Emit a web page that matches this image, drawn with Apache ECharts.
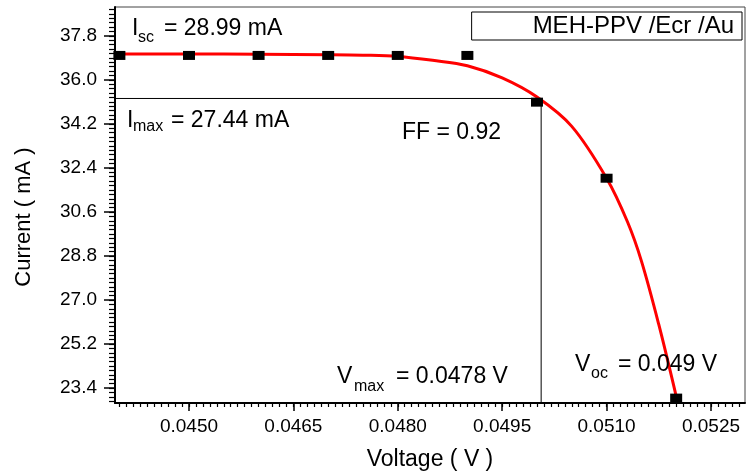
<!DOCTYPE html>
<html>
<head>
<meta charset="utf-8">
<script src="https://cdn.jsdelivr.net/npm/echarts@6/dist/echarts.min.js"></script>
<style>
html,body{margin:0;padding:0;background:#fff;}
#chart{width:747px;height:476px;}
</style>
</head>
<body>
<div id="chart"></div>
<script>
// ---- data ----
const seriesName = 'MEH-PPV /Ecr /Au';
const measV = [0.0440, 0.0450, 0.0460, 0.0470, 0.0480, 0.0490, 0.0500, 0.0510, 0.0520];
const measI = [37.00, 37.00, 37.00, 37.00, 37.00, 37.00, 35.09, 31.98, 22.99];
const fitV = [0.0440, 0.0450, 0.0460, 0.0470, 0.0475, 0.0480, 0.0485, 0.0490, 0.0495, 0.0500, 0.0505, 0.0510, 0.0513, 0.0515, 0.05175, 0.0520];
const fitI = [37.06, 37.06, 37.05, 37.03, 37.01, 36.96, 36.80, 36.58, 36.08, 35.30, 34.10, 31.98, 30.20, 28.60, 26.00, 23.07];
const guideV = [0.043937, 0.05006, 0.05006];
const guideI = [35.24, 35.24, 22.79];
const xTicks = [0.0450, 0.0465, 0.0480, 0.0495, 0.0510, 0.0525];
const yTicks = [23.4, 25.2, 27.0, 28.8, 30.6, 32.4, 34.2, 36.0, 37.8];
const xRange = [0.043937, 0.052989];
const yRange = [22.79, 38.98];

// minor tick positions (between the major ticks)
const xMinorStep = 0.0001, yMinorStep = 0.18;
const xMinor = [];
for (let k = Math.ceil(xRange[0] / xMinorStep); k * xMinorStep <= xRange[1]; k++) xMinor.push(+(k * xMinorStep).toFixed(6));
const yMinor = [];
for (let k = Math.ceil(yRange[0] / yMinorStep); k * yMinorStep <= yRange[1]; k++) yMinor.push(+(k * yMinorStep).toFixed(4));

const FONT = 'Liberation Sans, Arial, sans-serif';
const zip = (a, b) => a.map((v, i) => [v, b[i]]);

function txt(text, x, y, size) {
  return { type: 'text', z: 100, style: { text: text, x: x, y: y, fill: '#000',
    fontSize: size, fontFamily: FONT, align: 'left', verticalAlign: 'middle' } };
}

const chart = echarts.init(document.getElementById('chart'), null, { renderer: 'canvas' });
chart.setOption({
  animation: false,
  backgroundColor: '#fff',
  grid: { left: 115, right: 2, top: 7, bottom: 71, show: true, borderColor: '#444', borderWidth: 1, backgroundColor: 'transparent' },
  legend: {
    data: [seriesName], right: 5, top: 12, icon: 'rect', itemWidth: 0, itemHeight: 0,
    selectedMode: false, borderColor: '#000', borderWidth: 1, padding: [2, 8, 2, 56],
    textStyle: { fontSize: 24, fontFamily: FONT, color: '#000' }
  },
  xAxis: [
    {
      type: 'value', min: xRange[0], max: xRange[1], position: 'bottom',
      axisLine: { show: true, onZero: false, lineStyle: { color: '#000', width: 2 } },
      axisTick: { show: true, inside: false, length: 8, customValues: xTicks, lineStyle: { color: '#000', width: 1.5 } },
      axisLabel: { customValues: xTicks, formatter: v => v.toFixed(4), fontSize: 19, fontFamily: FONT, color: '#000', margin: 14 },
      splitLine: { show: false },
      name: 'Voltage ( V )', nameLocation: 'middle', nameGap: 45,
      nameTextStyle: { fontSize: 23, fontFamily: FONT, color: '#000' }
    },
    {
      type: 'value', min: xRange[0], max: xRange[1], position: 'bottom',
      axisLine: { show: false, onZero: false },
      axisTick: { show: true, inside: false, length: 4, customValues: xMinor, lineStyle: { color: '#000', width: 1.2 } },
      axisLabel: { show: false }, splitLine: { show: false }
    }
  ],
  yAxis: [
    {
      type: 'value', min: yRange[0], max: yRange[1], position: 'left',
      axisLine: { show: true, onZero: false, lineStyle: { color: '#000', width: 2 } },
      axisTick: { show: true, inside: false, length: 11, customValues: yTicks, lineStyle: { color: '#000', width: 1.5 } },
      axisLabel: { customValues: yTicks, formatter: v => v.toFixed(1), fontSize: 19, fontFamily: FONT, color: '#000', margin: 18 },
      splitLine: { show: false },
      name: 'Current ( mA )', nameLocation: 'middle', nameGap: 80,
      nameTextStyle: { fontSize: 22, fontFamily: FONT, color: '#000', padding: [0, 24, 0, 0] }
    },
    {
      type: 'value', min: yRange[0], max: yRange[1], position: 'left',
      axisLine: { show: false, onZero: false },
      axisTick: { show: true, inside: false, length: 6, customValues: yMinor, lineStyle: { color: '#000', width: 1.2 } },
      axisLabel: { show: false }, splitLine: { show: false }
    }
  ],
  series: [
    {
      name: 'guides', type: 'line', xAxisIndex: 0, yAxisIndex: 0, data: zip(guideV, guideI),
      symbol: 'none', lineStyle: { color: '#000', width: 1 }, z: 2, silent: true
    },
    {
      name: 'fit', type: 'line', xAxisIndex: 0, yAxisIndex: 0, data: zip(fitV, fitI),
      smooth: 0.35, symbol: 'none', lineStyle: { color: '#ff0000', width: 3 }, z: 3
    },
    {
      name: seriesName, type: 'scatter', xAxisIndex: 0, yAxisIndex: 0, data: zip(measV, measI),
      symbol: 'rect', symbolSize: [12, 9], itemStyle: { color: '#000', opacity: 1 }, z: 4, clip: false
    }
  ],
  graphic: [
    txt('I', 132, 29, 23), txt('sc', 138, 37.5, 16), txt('= 28.99 mA', 164, 29, 23),
    txt('I', 127, 121, 23), txt('max', 133, 126.5, 16), txt('= 27.44 mA', 171, 121, 23),
    txt('FF = 0.92', 402, 132.5, 23),
    txt('V', 337, 376.5, 23), txt('max', 354, 387, 16), txt('= 0.0478 V', 396, 376.5, 23),
    txt('V', 575, 365, 23), txt('oc', 591, 373.5, 16), txt('= 0.049 V', 618, 365, 23)
  ]
});
</script>
</body>
</html>
